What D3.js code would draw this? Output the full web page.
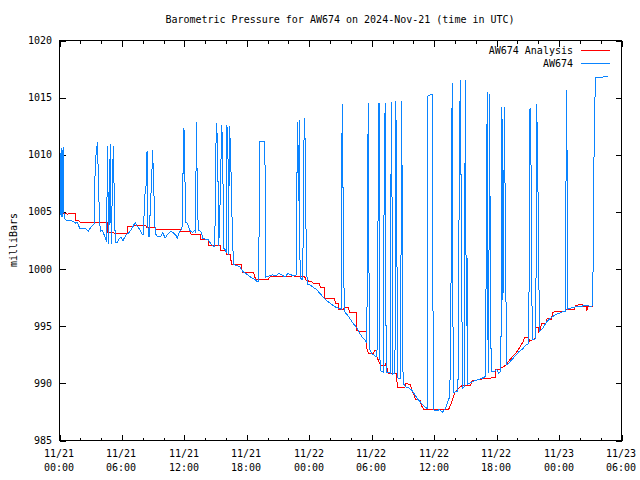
<!DOCTYPE html>
<html><head><meta charset="utf-8">
<script src="https://cdn.jsdelivr.net/npm/d3@7"></script>
<style>
html,body{margin:0;padding:0;background:#fff;}
svg{display:block;}
text{font-family:"DejaVu Sans Mono","Liberation Mono",monospace;font-size:10px;fill:#000;}
</style></head>
<body>
<svg id="c" width="640" height="480"></svg>
<script>
// ---- data (hours since 2024-11-21 00:00 UTC, millibars) ----
const chartTitle = "Barometric Pressure for AW674 on 2024-Nov-21 (time in UTC)";
const seriesNames = ["AW674 Analysis", "AW674"];
const xTickDates = ["11/21","11/21","11/21","11/21","11/22","11/22","11/22","11/22","11/23","11/23"];
const xTickTimes = ["00:00","06:00","12:00","18:00","00:00","06:00","12:00","18:00","00:00","06:00"];
const yTicks = [985, 990, 995, 1000, 1005, 1010, 1015, 1020];

const analysisSeries = [
[0,1005.1],[0.4,1004.9],[0.8,1004.8],[1.1,1004.9],[1.5,1004.9],[1.55,1004.25],[1.95,1004.2],[2.0,1004.05],
[4.6,1004.05],[4.65,1003.2],[5.2,1003.2],[5.25,1003.1],[6.5,1003.1],[6.55,1003.7],[7.0,1003.75],[7.5,1003.85],
[8.3,1003.8],[8.4,1003.6],[9.2,1003.6],[9.25,1003.5],[10.5,1003.45],[11.6,1003.45],[11.65,1003.3],[12.6,1003.3],
[12.65,1003.0],[13.55,1003.0],[13.6,1002.55],[14.3,1002.55],[14.35,1002.1],[15.45,1002.1],[15.5,1001.6],[16.0,1001.6],
[16.05,1001.3],[16.45,1001.3],[16.5,1000.4],[17.5,1000.4],[17.55,999.7],[18.65,999.7],[18.75,999.3],[18.95,999.05],
[20.1,999.05],[20.15,999.3],[21.0,999.35],[22.5,999.4],[23.6,999.3],[23.7,999.0],[24.2,998.9],[24.5,998.7],
[25.0,998.7],[25.05,998.4],[25.45,998.4],[25.5,997.4],[26.45,997.4],[26.5,997.0],[26.8,997.0],[26.85,996.5],
[27.3,996.5],[27.35,996.6],[27.8,996.6],[27.85,996.2],[28.5,996.2],[28.55,994.6],[29.5,994.5],[29.55,992.9],
[29.7,992.6],[30.2,992.6],[30.25,992.9],[30.45,992.8],[30.5,992.3],[30.85,991.6],[31.3,991.6],[31.35,991.7],
[31.6,990.9],[32.4,990.85],[32.45,989.65],[33.2,989.65],[33.25,990.0],[33.7,989.9],[34.2,988.6],[34.65,988.5],
[34.75,988.1],[35.0,987.75],[37.4,987.75],[37.7,988.4],[38.0,989.25],[38.3,989.5],[38.65,989.8],[39.5,989.8],
[39.6,990.2],[40.75,990.4],[41.85,990.5],[41.9,991.2],[42.2,991.2],[42.9,991.6],[43.3,992.1],[43.8,992.6],
[44.2,993.1],[44.6,993.75],[44.65,994.0],[45.1,994.0],[45.15,993.7],[45.7,993.9],[45.75,994.9],[46.0,994.9],
[46.05,994.5],[46.2,994.6],[46.3,995.2],[46.8,995.3],[46.85,995.7],[47.3,995.6],[47.35,996.2],[47.75,996.3],
[48.6,996.3],[48.7,996.5],[49.5,996.45],[49.55,996.8],[50.2,996.95],[50.3,996.7],[50.6,996.75],[50.65,996.3],
[50.75,996.7],[51.3,996.7]
];

const stationSeries = [
[0.00,1004.9],[0.05,1007.6],[0.10,1004.7],[0.15,1010.6],[0.20,1004.6],[0.25,1007.5],[0.30,1004.6],[0.34,1010.7],
[0.39,1007.6],[0.44,1004.5],[0.59,1004.3],[1.28,1004.2],[1.57,1004.0],[1.72,1004.1],[1.97,1003.5],[2.26,1003.6],
[2.56,1003.5],[2.76,1003.3],[3.05,1003.7],[3.25,1003.9],[3.35,1004.0],[3.39,1007.6],[3.49,1009.8],[3.64,1011.1],
[3.74,1008.0],[3.84,1004.3],[3.94,1003.3],[4.13,1003.4],[4.33,1002.9],[4.43,1002.7],[4.53,1002.4],[4.58,1007.8],
[4.62,1010.8],[4.67,1005.9],[4.72,1002.2],[4.82,1006.6],[4.87,1010.9],[4.92,1006.7],[4.97,1002.2],[5.07,1006.6],
[5.17,1010.8],[5.26,1006.5],[5.36,1002.3],[5.51,1002.3],[5.71,1002.6],[5.90,1002.8],[6.10,1002.5],[6.40,1003.0],
[6.69,1003.2],[6.99,1003.6],[7.28,1004.1],[7.38,1003.9],[7.58,1003.6],[7.77,1003.4],[7.87,1003.1],[8.07,1003.0],
[8.17,1006.3],[8.31,1007.2],[8.41,1010.3],[8.51,1003.2],[8.61,1002.8],[8.76,1006.0],[8.86,1008.0],[8.95,1010.4],
[9.10,1005.8],[9.20,1003.1],[9.45,1002.8],[9.74,1002.9],[9.94,1003.2],[10.14,1002.7],[10.43,1003.1],[10.73,1003.3],
[11.02,1003.1],[11.22,1002.9],[11.32,1002.7],[11.51,1003.2],[11.71,1003.5],[11.81,1003.8],[11.86,1008.0],[11.96,1012.3],
[12.05,1008.0],[12.15,1004.1],[12.30,1004.0],[12.50,1003.4],[12.79,1003.2],[12.99,1003.4],[13.09,1003.2],[13.14,1012.9],
[13.23,1007.9],[13.33,1003.4],[13.58,1003.3],[13.78,1002.7],[14.07,1002.6],[14.27,1002.6],[14.56,1002.2],[14.76,1002.0],
[14.91,1002.0],[14.96,1004.7],[15.01,1010.2],[15.10,1012.8],[15.20,1010.2],[15.30,1002.0],[15.40,1004.6],[15.50,1009.0],
[15.60,1012.6],[15.69,1009.0],[15.79,1001.8],[15.94,1001.7],[16.04,1001.4],[16.09,1012.6],[16.19,1009.9],[16.24,1001.2],
[16.33,1012.5],[16.43,1010.6],[16.53,1006.4],[16.63,1002.4],[16.73,1000.4],[17.02,1000.3],[17.32,1000.2],[17.61,999.8],
[17.91,999.6],[18.20,999.4],[18.50,999.2],[18.79,999.1],[18.99,998.9],[19.14,998.9],[19.19,1005.2],[19.24,1011.2],
[19.63,1011.2],[19.73,1011.1],[19.78,1005.2],[19.83,999.3],[20.17,999.4],[20.47,999.5],[20.76,999.4],[21.06,999.6],
[21.35,999.5],[21.65,999.3],[21.94,999.6],[22.24,999.5],[22.53,999.4],[22.73,999.5],[22.78,1002.6],[22.83,1009.5],
[22.88,1012.9],[22.98,1006.0],[23.03,1013.0],[23.12,999.2],[23.32,999.1],[23.42,1002.6],[23.47,1009.5],[23.52,1013.2],
[23.62,1010.8],[23.71,1001.0],[23.81,998.7],[24.11,998.6],[24.40,998.4],[24.70,998.2],[24.99,997.9],[25.29,997.6],
[25.58,997.3],[25.88,997.1],[26.17,996.9],[26.47,996.7],[26.76,996.6],[27.06,996.5],[27.11,1005.4],[27.16,1014.4],
[27.26,1005.4],[27.36,996.3],[27.65,996.0],[27.95,995.6],[28.24,995.2],[28.54,994.9],[28.83,994.4],[29.13,994.0],
[29.42,993.7],[29.52,993.6],[29.57,999.0],[29.62,1009.4],[29.67,1014.5],[29.77,993.0],[30.01,992.6],[30.31,992.4],
[30.50,992.3],[30.55,995.8],[30.60,1003.4],[30.65,1010.8],[30.70,1014.5],[30.80,991.1],[31.09,991.0],[31.19,1005.9],
[31.24,1011.1],[31.29,1014.5],[31.39,991.0],[31.78,990.9],[31.83,1002.5],[31.88,1014.6],[31.98,1002.6],[32.03,990.8],
[32.23,990.9],[32.28,1002.6],[32.32,1014.7],[32.42,1002.5],[32.47,990.5],[32.77,990.4],[32.82,1002.4],[32.87,1014.7],
[32.96,1002.4],[33.01,990.0],[33.26,989.7],[33.55,989.6],[33.85,989.4],[34.14,989.0],[34.44,988.6],[34.74,988.3],
[35.03,988.0],[35.33,987.8],[35.37,1015.1],[35.52,1015.2],[35.82,1015.3],[35.87,1001.6],[35.92,987.7],[36.21,987.6],
[36.51,987.7],[36.80,987.5],[37.10,987.8],[37.29,988.4],[37.49,988.8],[37.59,993.3],[37.64,1002.5],[37.69,1011.8],
[37.74,1016.3],[37.83,989.2],[38.28,989.3],[38.33,994.0],[38.38,1002.7],[38.43,1012.0],[38.52,1016.5],[38.62,1002.7],
[38.72,989.6],[38.87,989.7],[38.92,1002.7],[38.97,1010.0],[39.02,1016.5],[39.06,1001.2],[39.11,995.0],[39.16,1001.0],
[39.21,989.9],[39.56,990.1],[39.85,990.2],[40.15,990.3],[40.44,990.4],[40.74,990.5],[40.93,990.6],[40.98,997.6],
[41.03,1008.6],[41.08,1012.9],[41.13,1015.5],[41.18,990.9],[41.28,1002.8],[41.33,1015.3],[41.38,1002.8],[41.48,991.0],
[41.72,991.0],[42.02,991.2],[42.21,990.9],[42.41,991.1],[42.46,1002.5],[42.51,1014.2],[42.56,1008.5],[42.61,997.3],
[42.71,1008.5],[42.75,1014.2],[42.85,1002.5],[42.90,997.3],[43.00,991.6],[43.30,991.9],[43.59,992.2],[43.89,992.5],
[44.18,992.8],[44.48,993.0],[44.77,993.3],[45.07,993.5],[45.17,1003.7],[45.21,1014.1],[45.31,1008.9],[45.36,998.9],
[45.46,993.8],[45.76,993.9],[45.81,1003.9],[45.85,1014.4],[45.95,1009.6],[46.05,999.3],[46.15,994.6],[46.44,994.8],
[46.74,995.3],[47.04,995.6],[47.33,995.8],[47.63,996.0],[47.92,996.1],[48.22,996.2],[48.41,996.3],[48.61,996.3],
[48.66,1006.0],[48.71,1015.7],[48.81,1006.0],[48.86,996.5],[49.20,996.6],[49.59,996.7],[49.99,996.7],[50.38,996.8],
[50.77,996.8],[51.02,996.7],[51.22,996.8],[51.27,1000.2],[51.32,1006.9],[51.41,1013.6],[51.51,1016.8],[52.15,1016.8],
[52.74,1016.9]
];

const seriesColors = ["#ff0000", "#0a84ff"];

// ---- layout ----
const W = 640, H = 480;
const L = 59, R = 621, T = 40, B = 440;
const svg = d3.select("#c");
svg.append("rect").attr("width", W).attr("height", H).attr("fill", "#fff");

const x = d3.scaleLinear().domain([0, 54]).range([L, R]);
const y = d3.scaleLinear().domain([985, 1020]).range([B, T]);

const majorX = d3.range(0, 55, 6);
const minorX = d3.range(0, 55, 2).filter(h => h % 6 !== 0);

function cleanAxis(g) { g.select(".domain").remove(); g.selectAll("text").remove(); g.selectAll("line").attr("stroke", "#000"); }

// bottom ticks (inward)
svg.append("g").attr("transform", `translate(0.5,${B + 0.5})`).attr("shape-rendering", "crispEdges")
  .call(d3.axisBottom(x).tickValues(majorX).tickSizeInner(-6).tickSizeOuter(0)).call(cleanAxis);
svg.append("g").attr("transform", `translate(0.5,${B + 0.5})`).attr("shape-rendering", "crispEdges")
  .call(d3.axisBottom(x).tickValues(minorX).tickSizeInner(-3).tickSizeOuter(0)).call(cleanAxis);
// top ticks (inward)
svg.append("g").attr("transform", `translate(0.5,${T + 0.5})`).attr("shape-rendering", "crispEdges")
  .call(d3.axisTop(x).tickValues(majorX).tickSizeInner(-6).tickSizeOuter(0)).call(cleanAxis);
svg.append("g").attr("transform", `translate(0.5,${T + 0.5})`).attr("shape-rendering", "crispEdges")
  .call(d3.axisTop(x).tickValues(minorX).tickSizeInner(-3).tickSizeOuter(0)).call(cleanAxis);
// left / right ticks
svg.append("g").attr("transform", `translate(${L + 0.5},0.5)`).attr("shape-rendering", "crispEdges")
  .call(d3.axisLeft(y).tickValues(yTicks).tickSizeInner(-6).tickSizeOuter(0)).call(cleanAxis);
svg.append("g").attr("transform", `translate(${R + 0.5},0.5)`).attr("shape-rendering", "crispEdges")
  .call(d3.axisRight(y).tickValues(yTicks).tickSizeInner(-6).tickSizeOuter(0)).call(cleanAxis);

// y tick labels
svg.append("g").selectAll("text").data(yTicks).join("text")
  .attr("x", L - 7).attr("y", d => Math.round(y(d)) + 4)
  .attr("text-anchor", "end").text(d => d);

// x tick labels (two lines)
const xl = svg.append("g");
majorX.forEach((h, i) => {
  xl.append("text").attr("x", Math.round(x(h))).attr("y", B + 17).attr("text-anchor", "middle").text(xTickDates[i]);
  xl.append("text").attr("x", Math.round(x(h))).attr("y", B + 31).attr("text-anchor", "middle").text(xTickTimes[i]);
});

// title (centred over the plot area) + axis label
svg.append("text").attr("x", (L + R) / 2).attr("y", 23).attr("text-anchor", "middle").text(chartTitle);
svg.append("text").attr("transform", "translate(17,240) rotate(-90)").attr("text-anchor", "middle").text("milliBars");

// data lines
const line = d3.line().x(d => x(d[0]) + 0.5).y(d => y(d[1]) + 0.5);
const plot = svg.append("g");
[analysisSeries, stationSeries].forEach((s, i) => {
  plot.append("path").datum(s).attr("d", line).attr("fill", "none")
    .attr("stroke", seriesColors[i]).attr("stroke-width", 1).attr("shape-rendering", "crispEdges");
});

// legend
const lg = svg.append("g");
seriesNames.forEach((n, i) => {
  const ly = 50 + i * 13;
  lg.append("text").attr("x", 573).attr("y", ly + 4).attr("text-anchor", "end").text(n);
  lg.append("line").attr("x1", 581).attr("x2", 610).attr("y1", ly + 0.5).attr("y2", ly + 0.5)
    .attr("stroke", seriesColors[i]).attr("stroke-width", 1).attr("shape-rendering", "crispEdges");
});

// frame
svg.append("rect").attr("x", L + 0.5).attr("y", T + 0.5).attr("width", R - L).attr("height", B - T)
  .attr("fill", "none").attr("stroke", "#000").attr("stroke-width", 1).attr("shape-rendering", "crispEdges");
</script>
</body></html>
